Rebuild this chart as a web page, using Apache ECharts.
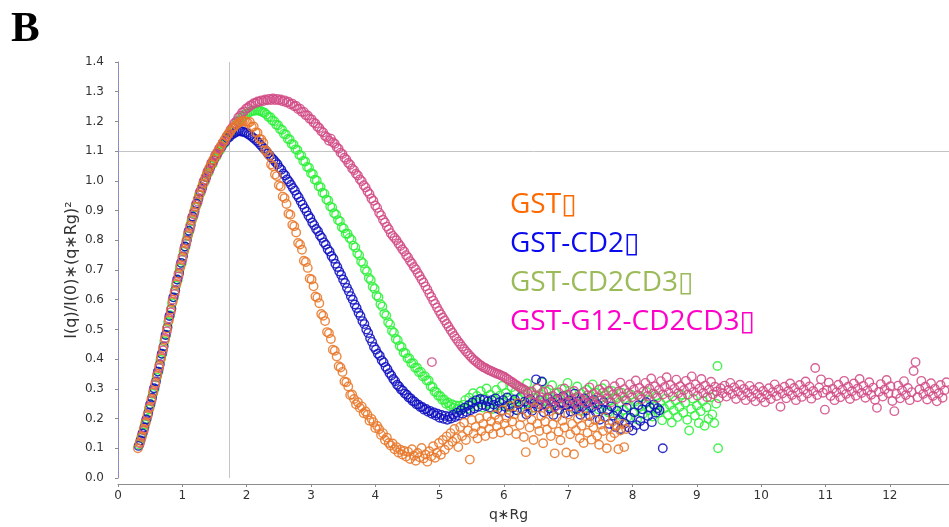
<!DOCTYPE html>
<html><head><meta charset="utf-8">
<script src="https://cdn.jsdelivr.net/npm/echarts@6/dist/echarts.min.js"></script>
<style>html,body{margin:0;padding:0;background:#fff}#c{width:949px;height:527px}</style>
</head><body><div id="c"></div>
<script>
const xTicks = [0,1,2,3,4,5,6,7,8,9,10,11,12];
const yTicks = [0,0.1,0.2,0.3,0.4,0.5,0.6,0.7,0.8,0.9,1.0,1.1,1.2,1.3,1.4];
const guideX = 1.732;
const guideY = 1.104;
const seriesNames = ['GST\u25AF','GST-CD2\u25AF','GST-CD2CD3\u25AF','GST-G12-CD2CD3\u25AF'];

const gstData = [[0.31,0.100],[0.34,0.120],[0.37,0.138],[0.40,0.165],[0.43,0.185],[0.46,0.214],[0.49,0.235],[0.52,0.266],[0.55,0.288],[0.58,0.320],[0.61,0.344],[0.64,0.378],[0.67,0.403],[0.70,0.438],[0.73,0.465],[0.76,0.503],[0.79,0.530],[0.82,0.566],[0.85,0.593],[0.88,0.628],[0.91,0.653],[0.94,0.687],[0.97,0.710],[1.00,0.743],[1.03,0.765],[1.06,0.797],[1.09,0.818],[1.12,0.849],[1.15,0.868],[1.18,0.896],[1.21,0.913],[1.24,0.939],[1.27,0.954],[1.30,0.978],[1.33,0.991],[1.36,1.013],[1.39,1.024],[1.42,1.044],[1.45,1.054],[1.48,1.071],[1.51,1.080],[1.54,1.096],[1.57,1.104],[1.60,1.118],[1.63,1.128],[1.66,1.140],[1.69,1.150],[1.72,1.160],[1.75,1.168],[1.78,1.176],[1.81,1.183],[1.84,1.189],[1.87,1.194],[1.90,1.198],[1.93,1.201],[1.96,1.202],[1.99,1.200],
[2.02,1.195],[2.05,1.198],[2.08,1.181],[2.11,1.183],[2.14,1.163],[2.17,1.162],[2.20,1.141],[2.23,1.139],[2.26,1.128],[2.29,1.103],[2.32,1.097],[2.35,1.085],[2.38,1.055],[2.41,1.049],[2.44,1.021],[2.47,1.016],[2.50,0.985],[2.53,0.981],[2.56,0.947],[2.59,0.942],[2.62,0.922],[2.65,0.889],[2.68,0.886],[2.71,0.852],[2.74,0.847],[2.77,0.826],[2.80,0.791],[2.83,0.786],[2.86,0.768],[2.89,0.731],[2.92,0.727],[2.95,0.707],[2.98,0.671],[3.01,0.668],[3.04,0.645],[3.07,0.611],[3.10,0.607],[3.13,0.588],[3.16,0.552],[3.19,0.546],[3.22,0.528],[3.25,0.491],[3.28,0.487],[3.31,0.468],[3.34,0.432],[3.37,0.428],[3.40,0.409],[3.43,0.376],[3.46,0.372],[3.49,0.357],[3.52,0.325],[3.55,0.322],[3.58,0.308],[3.61,0.279],[3.64,0.281],[3.67,0.266],[3.70,0.248],[3.73,0.255],[3.76,0.236],[3.79,0.241],[3.82,0.218],[3.85,0.224],[3.88,0.213],[3.91,0.193],[3.94,0.199],[3.97,0.188],[4.00,0.168],[4.03,0.175],[4.06,0.164],[4.09,0.145],[4.12,0.151],[4.15,0.128],[4.18,0.136],[4.21,0.118],[4.24,0.109],[4.27,0.116],[4.30,0.097],[4.33,0.104],[4.36,0.086],[4.39,0.095],[4.42,0.079],[4.45,0.091],
[4.48,0.072],[4.51,0.088],[4.54,0.064],[4.57,0.097],[4.60,0.075],[4.63,0.058],[4.66,0.084],[4.69,0.070],[4.72,0.101],[4.75,0.066],[4.78,0.079],[4.81,0.055],[4.84,0.090],[4.87,0.073],[4.90,0.107],[4.93,0.068],[4.96,0.085],[4.99,0.118],[5.02,0.078],[5.05,0.128],[5.08,0.095],[5.11,0.140],[5.14,0.110],[5.17,0.151],[5.20,0.122],[5.23,0.165],[5.26,0.134],[5.29,0.104],[5.32,0.172],[5.35,0.141],[5.38,0.186],[5.41,0.128],[5.44,0.160],[5.47,0.062],[5.50,0.195],[5.53,0.150],[5.56,0.172],[5.59,0.133],[5.62,0.201],[5.65,0.158],[5.68,0.182],[5.71,0.141],[5.74,0.207],[5.77,0.166],[5.80,0.190],[5.83,0.148],[5.86,0.212],[5.89,0.175],[5.92,0.196],[5.95,0.153],[5.98,0.228],[6.01,0.183],[6.04,0.203],[6.07,0.160],[6.10,0.242],[6.13,0.190],[6.16,0.214],[6.19,0.148],[6.22,0.252],[6.25,0.178],[6.28,0.205],[6.31,0.138],[6.34,0.087],[6.37,0.221],[6.40,0.170],[6.43,0.196],[6.46,0.128],[6.49,0.236],[6.52,0.182],[6.55,0.158],[6.58,0.209],[6.61,0.117],[6.64,0.190],[6.67,0.163],[6.70,0.224],[6.73,0.141],[6.76,0.181],[6.79,0.083],[6.82,0.205],[6.85,0.156],[6.88,0.127],[6.91,0.193],[6.94,0.170],[6.97,0.086],[7.00,0.214],[7.03,0.147],[7.06,0.182],[7.09,0.080],[7.12,0.161],[7.15,0.199],[7.18,0.134],[7.21,0.176],[7.24,0.118],[7.27,0.208],[7.30,0.152],[7.33,0.187],[7.36,0.129],[7.39,0.171],[7.42,0.195],[7.45,0.142],[7.48,0.112],[7.51,0.180],[7.54,0.158],[7.57,0.204],[7.60,0.100],[7.63,0.168],[7.66,0.137],[7.69,0.190],[7.72,0.151],[7.75,0.176],[7.78,0.097],[7.81,0.160],[7.84,0.182],[7.87,0.104],[7.90,0.165]];

const cd2Data = [[0.32,0.108],[0.35,0.126],[0.38,0.150],[0.41,0.170],[0.44,0.197],[0.47,0.219],[0.50,0.248],[0.53,0.270],[0.56,0.302],[0.59,0.325],[0.62,0.358],[0.65,0.383],[0.68,0.418],[0.71,0.443],[0.74,0.481],[0.77,0.507],[0.80,0.545],[0.83,0.570],[0.86,0.608],[0.89,0.632],[0.92,0.668],[0.95,0.690],[0.98,0.724],[1.01,0.746],[1.04,0.779],[1.07,0.800],[1.10,0.832],[1.13,0.851],[1.16,0.880],[1.19,0.897],[1.22,0.924],[1.25,0.940],[1.28,0.964],[1.31,0.978],[1.34,1.000],[1.37,1.012],[1.40,1.033],[1.43,1.043],[1.46,1.061],[1.49,1.070],[1.52,1.086],[1.55,1.094],[1.58,1.108],[1.61,1.114],[1.64,1.127],[1.67,1.132],[1.70,1.143],[1.73,1.147],[1.76,1.155],[1.79,1.158],[1.82,1.163],[1.85,1.165],[1.88,1.168],[1.91,1.166],
[1.94,1.166],[1.97,1.163],[2.00,1.161],[2.03,1.156],[2.06,1.153],[2.09,1.147],[2.12,1.142],[2.15,1.136],[2.18,1.130],[2.21,1.122],[2.24,1.116],[2.27,1.108],[2.30,1.101],[2.33,1.092],[2.36,1.085],[2.39,1.077],[2.42,1.071],[2.45,1.063],[2.48,1.056],[2.51,1.044],[2.54,1.037],[2.57,1.025],[2.60,1.018],[2.63,1.005],[2.66,0.997],[2.69,0.987],[2.72,0.976],[2.75,0.967],[2.78,0.953],[2.81,0.944],[2.84,0.931],[2.87,0.920],[2.90,0.908],[2.93,0.897],[2.96,0.883],[2.99,0.874],[3.02,0.860],[3.05,0.851],[3.08,0.838],[3.11,0.830],[3.14,0.816],[3.17,0.808],[3.20,0.793],[3.23,0.785],[3.26,0.770],[3.29,0.762],[3.32,0.747],[3.35,0.738],[3.38,0.721],[3.41,0.710],[3.44,0.695],[3.47,0.683],[3.50,0.668],[3.53,0.656],[3.56,0.640],[3.59,0.628],[3.62,0.612],[3.65,0.600],[3.68,0.584],[3.71,0.572],[3.74,0.556],[3.77,0.545],[3.80,0.528],[3.83,0.518],[3.86,0.500],[3.89,0.488],[3.92,0.470],[3.95,0.458],[3.98,0.441],[4.01,0.432],[4.04,0.418],[4.07,0.411],[4.10,0.396],[4.13,0.389],[4.16,0.374],[4.19,0.366],[4.22,0.353],[4.25,0.345],[4.28,0.333],[4.31,0.326],[4.34,0.314],[4.37,0.308],[4.40,0.298],[4.43,0.294],[4.46,0.284],[4.49,0.280],[4.52,0.271],[4.55,0.268],[4.58,0.259],[4.61,0.257],[4.64,0.248],[4.67,0.247],[4.70,0.239],[4.73,0.239],[4.76,0.230],[4.79,0.232],[4.82,0.223],[4.85,0.226],[4.88,0.216],[4.91,0.221],[4.94,0.210],[4.97,0.216],[5.00,0.203],[5.03,0.212],[5.06,0.199],[5.09,0.209],[5.12,0.196],[5.15,0.207],[5.18,0.200],[5.21,0.213],[5.24,0.205],[5.27,0.220],[5.30,0.210],[5.33,0.228],[5.36,0.216],[5.39,0.237],[5.42,0.222],[5.45,0.245],[5.48,0.228],[5.51,0.254],[5.54,0.234],[5.57,0.262],[5.60,0.240],[5.63,0.266],[5.66,0.246],[5.69,0.263],[5.72,0.242],[5.75,0.258],[5.78,0.237],[5.81,0.262],[5.84,0.247],[5.87,0.268],[5.90,0.233],
[5.93,0.255],[5.96,0.226],[5.99,0.262],[6.02,0.240],[6.05,0.271],[6.08,0.219],[6.11,0.252],[6.14,0.236],[6.17,0.264],[6.20,0.228],[6.23,0.249],[6.26,0.273],[6.29,0.231],[6.32,0.257],[6.35,0.214],[6.38,0.244],[6.41,0.266],[6.44,0.226],[6.47,0.251],[6.50,0.332],[6.53,0.238],[6.56,0.262],[6.59,0.325],[6.62,0.221],[6.65,0.248],[6.68,0.270],[6.71,0.234],[6.74,0.256],[6.77,0.212],[6.80,0.243],[6.83,0.267],[6.86,0.229],[6.89,0.252],[6.92,0.275],[6.95,0.218],[6.98,0.246],[7.01,0.261],[7.04,0.224],[7.07,0.250],[7.10,0.284],[7.13,0.232],[7.16,0.257],[7.19,0.213],[7.22,0.241],[7.25,0.268],[7.28,0.227],[7.31,0.254],[7.34,0.209],[7.37,0.238],[7.40,0.263],[7.43,0.222],[7.46,0.247],[7.49,0.196],[7.52,0.233],[7.55,0.256],[7.58,0.205],[7.61,0.228],[7.64,0.182],[7.67,0.241],[7.70,0.210],[7.73,0.172],[7.76,0.226],[7.79,0.195],[7.82,0.165],[7.85,0.214],[7.88,0.183],[7.91,0.237],[7.94,0.170],[7.97,0.203],[8.00,0.160],[8.03,0.221],[8.06,0.178],[8.09,0.245],[8.12,0.192],[8.15,0.231],[8.18,0.174],[8.21,0.256],[8.24,0.209],[8.27,0.238],[8.30,0.188],[8.33,0.247],[8.36,0.220],[8.39,0.235],[8.42,0.228],[8.47,0.100]];

const cd2cd3Data = [[0.33,0.112],[0.36,0.135],[0.39,0.152],[0.42,0.181],[0.45,0.199],[0.48,0.231],[0.51,0.248],[0.54,0.283],[0.57,0.300],[0.60,0.338],[0.63,0.358],[0.66,0.398],[0.69,0.418],[0.72,0.460],[0.75,0.482],[0.78,0.525],[0.81,0.548],[0.84,0.588],[0.87,0.608],[0.90,0.648],[0.93,0.667],[0.96,0.705],[0.99,0.723],[1.02,0.761],[1.05,0.778],[1.08,0.814],[1.11,0.830],[1.14,0.864],[1.17,0.878],[1.20,0.910],[1.23,0.922],[1.26,0.952],[1.29,0.962],[1.32,0.989],[1.35,0.997],[1.38,1.022],[1.41,1.028],[1.44,1.051],[1.47,1.056],[1.50,1.077],[1.53,1.081],[1.56,1.100],[1.59,1.104],[1.62,1.121],[1.65,1.125],[1.68,1.141],[1.71,1.146],[1.74,1.160],[1.77,1.166],[1.80,1.180],[1.83,1.186],[1.86,1.198],[1.89,1.203],[1.92,1.213],[1.95,1.216],[1.98,1.224],[2.01,1.226],[2.04,1.232],[2.07,1.233],[2.10,1.237],[2.13,1.236],[2.16,1.238],[2.19,1.236],[2.22,1.235],[2.25,1.231],[2.28,1.229],
[2.31,1.223],[2.34,1.215],[2.37,1.214],[2.40,1.203],[2.43,1.201],[2.46,1.189],[2.49,1.187],[2.52,1.174],[2.55,1.172],[2.58,1.158],[2.61,1.156],[2.64,1.141],[2.67,1.139],[2.70,1.124],[2.73,1.122],[2.76,1.106],[2.79,1.104],[2.82,1.087],[2.85,1.085],[2.88,1.067],[2.91,1.065],[2.94,1.047],[2.97,1.044],[3.00,1.026],[3.03,1.023],[3.06,1.004],[3.09,1.001],[3.12,0.982],[3.15,0.979],[3.18,0.960],[3.21,0.957],[3.24,0.937],[3.27,0.934],[3.30,0.914],[3.33,0.910],[3.36,0.891],[3.39,0.887],[3.42,0.868],[3.45,0.864],[3.48,0.844],[3.51,0.840],[3.54,0.822],[3.57,0.822],[3.60,0.808],[3.63,0.802],[3.66,0.782],[3.69,0.776],[3.72,0.756],[3.75,0.750],[3.78,0.729],[3.81,0.723],[3.84,0.702],[3.87,0.695],[3.90,0.673],[3.93,0.666],[3.96,0.644],[3.99,0.637],[4.02,0.614],[4.05,0.608],[4.08,0.585],[4.11,0.577],[4.14,0.554],[4.17,0.547],[4.20,0.524],[4.23,0.517],[4.26,0.495],[4.29,0.489],[4.32,0.468],[4.35,0.464],[4.38,0.444],[4.41,0.441],[4.44,0.422],[4.47,0.420],[4.50,0.403],[4.53,0.402],[4.56,0.386],[4.59,0.386],[4.62,0.371],[4.65,0.371],[4.68,0.356],[4.71,0.357],[4.74,0.342],[4.77,0.343],[4.80,0.328],[4.83,0.328],[4.86,0.309],[4.89,0.306],[4.92,0.291],[4.95,0.289],[4.98,0.277],[5.01,0.276],[5.04,0.263],[5.07,0.264],[5.10,0.250],[5.13,0.254],[5.16,0.242],[5.19,0.248],[5.22,0.236],[5.25,0.244],[5.28,0.233],[5.31,0.243],[5.34,0.232],[5.37,0.246],
[5.40,0.262],[5.43,0.233],[5.46,0.270],[5.49,0.248],[5.52,0.285],[5.55,0.241],[5.58,0.276],[5.61,0.255],[5.64,0.292],[5.67,0.237],[5.70,0.268],[5.73,0.301],[5.76,0.249],[5.79,0.280],[5.82,0.232],[5.85,0.265],[5.88,0.296],[5.91,0.244],[5.94,0.278],[5.97,0.310],[6.00,0.253],[6.03,0.286],[6.06,0.239],[6.09,0.271],[6.12,0.305],[6.15,0.258],[6.18,0.290],[6.21,0.228],[6.24,0.266],[6.27,0.299],[6.30,0.247],[6.33,0.281],[6.36,0.318],[6.39,0.255],[6.42,0.287],[6.45,0.236],[6.48,0.270],[6.51,0.303],[6.54,0.249],[6.57,0.283],[6.60,0.322],[6.63,0.259],[6.66,0.291],[6.69,0.241],[6.72,0.274],[6.75,0.312],[6.78,0.252],[6.81,0.285],[6.84,0.230],[6.87,0.267],[6.90,0.300],[6.93,0.245],[6.96,0.279],[6.99,0.320],[7.02,0.257],[7.05,0.289],[7.08,0.234],[7.11,0.270],[7.14,0.308],[7.17,0.250],[7.20,0.283],[7.23,0.226],[7.26,0.263],[7.29,0.297],[7.32,0.243],[7.35,0.276],[7.38,0.315],[7.41,0.254],[7.44,0.286],[7.47,0.231],[7.50,0.268],[7.53,0.302],[7.56,0.246],[7.59,0.279],[7.62,0.221],[7.65,0.260],[7.68,0.293],[7.71,0.238],[7.74,0.271],[7.77,0.213],[7.80,0.254],[7.83,0.287],[7.86,0.229],[7.89,0.263],[7.92,0.205],[7.95,0.245],[7.98,0.280],[8.01,0.222],[8.04,0.257],[8.07,0.198],[8.10,0.238],[8.13,0.272],[8.16,0.215],[8.19,0.249],[8.22,0.290],[8.25,0.228],[8.28,0.262],[8.31,0.207],[8.34,0.242],[8.37,0.276],[8.40,0.219],[8.43,0.253],[8.46,0.194],[8.49,0.234],[8.52,0.268],[8.55,0.212],[8.58,0.246],[8.61,0.187],[8.64,0.227],[8.67,0.261],[8.70,0.205],[8.73,0.239],[8.76,0.280],[8.79,0.220],[8.82,0.253],[8.85,0.196],[8.88,0.160],[8.91,0.232],[8.94,0.267],[8.97,0.210],[9.00,0.244],[9.03,0.185],[9.06,0.225],[9.09,0.259],[9.12,0.176],[9.15,0.238],[9.18,0.199],[9.21,0.272],[9.24,0.214],[9.27,0.185],[9.30,0.250],[9.32,0.377],[9.33,0.100]];

const g12Data = [[0.34,0.117],[0.37,0.142],[0.40,0.160],[0.43,0.190],[0.46,0.209],[0.49,0.240],[0.52,0.259],[0.55,0.294],[0.58,0.313],[0.61,0.350],[0.64,0.370],[0.67,0.409],[0.70,0.430],[0.73,0.471],[0.76,0.494],[0.79,0.537],[0.82,0.558],[0.85,0.600],[0.88,0.619],[0.91,0.660],[0.94,0.678],[0.97,0.717],[1.00,0.734],[1.03,0.772],[1.06,0.788],[1.09,0.825],[1.12,0.840],[1.15,0.875],[1.18,0.887],[1.21,0.920],[1.24,0.930],[1.27,0.961],[1.30,0.969],[1.33,0.998],[1.36,1.004],[1.39,1.031],[1.42,1.036],[1.45,1.060],[1.48,1.063],[1.51,1.085],[1.54,1.088],[1.57,1.108],[1.60,1.111],[1.63,1.129],[1.66,1.133],[1.69,1.150],[1.72,1.157],[1.75,1.172],[1.78,1.180],[1.81,1.194],[1.84,1.201],[1.87,1.213],[1.90,1.219],[1.93,1.230],[1.96,1.234],[1.99,1.243],[2.02,1.246],[2.05,1.253],[2.08,1.255],[2.11,1.261],[2.14,1.262],[2.17,1.267],[2.20,1.266],[2.23,1.271],[2.26,1.269],[2.29,1.274],[2.32,1.271],[2.35,1.276],[2.38,1.272],[2.41,1.277],[2.44,1.272],[2.47,1.276],[2.50,1.271],[2.53,1.274],[2.56,1.268],[2.59,1.271],[2.62,1.264],[2.65,1.266],[2.68,1.258],[2.71,1.260],[2.74,1.251],[2.77,1.252],[2.80,1.242],[2.83,1.243],[2.86,1.232],[2.89,1.232],[2.92,1.221],[2.95,1.220],[2.98,1.209],[3.01,1.207],[3.04,1.196],[3.07,1.193],[3.10,1.182],[3.13,1.178],[3.16,1.167],[3.19,1.163],[3.22,1.151],[3.25,1.147],[3.28,1.135],
[3.31,1.142],[3.34,1.130],[3.37,1.125],[3.40,1.113],[3.43,1.108],[3.46,1.095],[3.49,1.090],[3.52,1.078],[3.55,1.072],[3.58,1.060],[3.61,1.054],[3.64,1.042],[3.67,1.036],[3.70,1.024],[3.73,1.018],[3.76,1.005],[3.79,0.999],[3.82,0.985],[3.85,0.978],[3.88,0.964],[3.91,0.956],[3.94,0.941],[3.97,0.933],[4.00,0.917],[4.03,0.909],[4.06,0.893],[4.09,0.884],[4.12,0.869],[4.15,0.860],[4.18,0.846],[4.21,0.837],[4.24,0.824],[4.27,0.815],
[4.30,0.808],[4.33,0.800],[4.36,0.789],[4.39,0.781],[4.42,0.770],[4.45,0.762],[4.48,0.750],[4.51,0.742],[4.54,0.730],[4.57,0.722],[4.60,0.710],[4.63,0.702],[4.66,0.690],[4.69,0.680],[4.72,0.668],[4.75,0.658],[4.78,0.645],[4.81,0.634],[4.84,0.621],[4.87,0.610],[4.88,0.390],[4.90,0.597],[4.93,0.586],[4.96,0.574],[4.99,0.562],[5.02,0.551],[5.05,0.540],[5.08,0.530],[5.11,0.519],[5.14,0.509],[5.17,0.498],[5.20,0.489],[5.23,0.478],[5.26,0.469],[5.29,0.459],[5.32,0.451],[5.35,0.442],[5.38,0.434],[5.41,0.426],[5.44,0.419],[5.47,0.411],[5.50,0.405],[5.53,0.398],[5.56,0.393],[5.59,0.387],[5.62,0.382],[5.65,0.378],[5.68,0.373],[5.71,0.370],[5.74,0.366],[5.77,0.363],[5.80,0.360],[5.83,0.357],[5.86,0.354],[5.89,0.351],[5.92,0.349],[5.95,0.346],[5.98,0.343],[6.01,0.340],[6.04,0.335],[6.07,0.331],[6.10,0.326],[6.13,0.322],[6.16,0.317],[6.19,0.313],[6.22,0.309],[6.25,0.305],[6.28,0.301],[6.31,0.298],[6.34,0.294],
[6.37,0.286],[6.40,0.262],[6.43,0.291],[6.46,0.255],[6.49,0.279],[6.52,0.301],[6.55,0.248],[6.58,0.272],[6.61,0.290],[6.64,0.243],[6.67,0.268],[6.70,0.297],[6.73,0.252],[6.76,0.276],[6.79,0.239],[6.82,0.263],[6.85,0.288],[6.88,0.246],[6.91,0.271],[6.94,0.301],[6.97,0.255],[7.00,0.280],[7.03,0.241],[7.06,0.266],[7.09,0.293],[7.12,0.250],[7.15,0.274],[7.18,0.237],[7.21,0.262],[7.24,0.289],[7.27,0.253],[7.30,0.278],[7.33,0.305],[7.36,0.258],[7.39,0.283],[7.42,0.247],[7.45,0.271],[7.48,0.298],[7.51,0.262],[7.54,0.287],[7.57,0.315],[7.60,0.268],[7.63,0.293],[7.66,0.254],[7.69,0.280],[7.72,0.309],[7.75,0.266],[7.78,0.291],[7.81,0.321],[7.84,0.274],[7.87,0.299],[7.90,0.260],[7.93,0.286],[7.96,0.315],[7.99,0.272],[8.02,0.297],[8.05,0.328],[8.08,0.279],[8.11,0.303],[8.14,0.265],[8.17,0.291],[8.20,0.320],[8.23,0.276],[8.26,0.301],[8.29,0.335],[8.32,0.284],[8.35,0.309],[8.38,0.270],[8.41,0.296],[8.44,0.326],[8.47,0.281],[8.50,0.306],[8.53,0.339],[8.56,0.288],[8.59,0.313],[8.62,0.274],[8.65,0.300],[8.68,0.331],[8.71,0.285],[8.74,0.309],[8.77,0.270],[8.80,0.296],[8.83,0.327],[8.86,0.281],[8.89,0.305],[8.92,0.342],[8.95,0.290],[8.98,0.315],[9.01,0.277],[9.04,0.301],[9.07,0.333],[9.10,0.286],[9.13,0.311],[9.16,0.272],[9.19,0.297],[9.22,0.324],[9.25,0.282],[9.28,0.307],[9.31,0.291],[9.34,0.268],[9.37,0.302],[9.40,0.285],[9.43,0.311],[9.46,0.274],[9.49,0.296],[9.52,0.320],[9.55,0.283],[9.58,0.305],[9.61,0.266],[9.64,0.291],[9.67,0.314],[9.70,0.278],[9.73,0.300],[9.76,0.262],[9.79,0.287],[9.82,0.310],[9.85,0.273],[9.88,0.296],[9.91,0.258],[9.94,0.283],[9.97,0.306],[10.00,0.270],[10.03,0.293],[10.06,0.255],[10.09,0.280],[10.12,0.302],[10.15,0.266],[10.18,0.289],[10.21,0.315],[10.24,0.276],[10.27,0.298],[10.30,0.240],[10.33,0.284],[10.36,0.307],[10.39,0.268],[10.42,0.292],[10.45,0.318],[10.48,0.279],[10.51,0.303],[10.54,0.262],[10.57,0.288],[10.60,0.313],[10.63,0.273],[10.66,0.297],[10.69,0.325],[10.72,0.284],[10.75,0.308],[10.78,0.267],[10.81,0.293],[10.84,0.370],[10.87,0.279],[10.90,0.304],[10.93,0.332],[10.96,0.287],[10.99,0.230],[11.02,0.296],[11.05,0.321],[11.08,0.276],[11.11,0.300],[11.14,0.262],[11.17,0.288],[11.20,0.314],[11.23,0.272],[11.26,0.297],[11.29,0.327],[11.32,0.283],[11.35,0.307],[11.38,0.266],[11.41,0.292],[11.44,0.318],[11.47,0.277],[11.50,0.301],[11.53,0.333],[11.56,0.286],[11.59,0.310],[11.62,0.270],[11.65,0.294],[11.68,0.322],[11.71,0.280],[11.74,0.304],[11.77,0.263],[11.80,0.236],[11.83,0.290],[11.86,0.316],[11.89,0.274],[11.92,0.298],[11.95,0.330],[11.98,0.285],[12.01,0.309],[12.04,0.259],[12.07,0.225],[12.10,0.283],[12.13,0.311],[12.16,0.268],[12.19,0.295],[12.22,0.326],[12.25,0.279],[12.28,0.303],[12.31,0.262],[12.34,0.289],[12.37,0.360],[12.40,0.390],[12.43,0.272],[12.46,0.298],[12.49,0.327],[12.52,0.283],[12.55,0.307],[12.58,0.264],[12.61,0.291],[12.64,0.319],[12.67,0.276],[12.70,0.300],[12.73,0.258],[12.76,0.285],[12.79,0.313],[12.82,0.270],[12.85,0.295],[12.88,0.322]];

const markerColors = ['#E8782A','#1010C0','#2EF03A','#D24C86'];
const textColors = ['#FF6A00','#0A0AF0','#9BBB59','#FF00C8'];
const allData = [gstData, cd2Data, cd2cd3Data, g12Data];
const drawOrder = [2,1,3,0];

const chart = echarts.init(document.getElementById('c'));
const axisFont = 'DejaVu Sans';
const series = drawOrder.map((k) => ({
  name: seriesNames[k],
  type: 'scatter',
  data: allData[k],
  symbol: 'circle',
  symbolSize: 8.5,
  silent: true,
  z: 3,
  itemStyle: {color: 'rgba(0,0,0,0)', borderColor: markerColors[k], borderWidth: 1.4, opacity: 0.88},
  emphasis: {disabled: true}
}));
series.unshift({
  type: 'scatter', data: [], silent: true, z: 1,
  markLine: {
    silent: true, symbol: ['none','none'], z: 1,
    label: {show: false},
    lineStyle: {color: '#c4c4c4', type: 'solid', width: 1},
    emphasis: {disabled: true},
    data: [
      {xAxis: guideX},
      {yAxis: guideY},
      {xAxis: 0, lineStyle: {color: '#8a8aff', type: 'dotted', width: 1}}
    ]
  }
});

const legendY = [205, 244, 283, 322];
chart.setOption({
  animation: false,
  backgroundColor: '#fff',
  title: {text: 'B', left: 6, top: 3, textStyle: {fontFamily: 'Liberation Serif', fontWeight: 'bold', fontSize: 43, color: '#000'}},
  grid: {left: 118, right: 0, top: 62, bottom: 49, containLabel: false},
  xAxis: {
    type: 'value', min: 0, max: 12.92, interval: 1, offset: 6,
    axisLine: {show: true, onZero: false, lineStyle: {color: '#8c8c8c', width: 1}},
    axisTick: {show: true, length: 3, customValues: xTicks, lineStyle: {color: '#8c8c8c'}},
    axisLabel: {customValues: xTicks, color: '#333', fontSize: 12, fontFamily: axisFont, margin: 6},
    splitLine: {show: false},
    name: 'q\u2217Rg', nameLocation: 'middle', nameGap: 24, nameMoveOverlap: false,
    nameTextStyle: {color: '#333', fontSize: 14, fontFamily: axisFont, padding: [0, 50, 0, 0]}
  },
  yAxis: {
    type: 'value', min: 0, max: 1.4, interval: 0.1, offset: 5,
    axisLine: {show: true, lineStyle: {color: '#8c8c8c', width: 1}},
    axisTick: {show: true, length: 3, customValues: yTicks, lineStyle: {color: '#8c8c8c'}},
    axisLabel: {customValues: yTicks, color: '#333', fontSize: 12, fontFamily: axisFont, margin: 9, formatter: v => v.toFixed(1)},
    splitLine: {show: false},
    name: 'I(q)/I(0)\u2217(q\u2217Rg)\u00B2', nameLocation: 'middle', nameGap: 33, nameRotate: 90, nameMoveOverlap: false,
    nameTextStyle: {color: '#333', fontSize: 16, fontFamily: axisFont}
  },
  graphic: seriesNames.map((n, k) => ({
    type: 'text', x: 510, y: legendY[k], silent: true,
    style: {text: n, fill: textColors[k], fontSize: 28, fontFamily: '"Open Sans", "DejaVu Sans"', verticalAlign: 'middle', align: 'left'}
  })),
  series: series
});
</script>
</body></html>
